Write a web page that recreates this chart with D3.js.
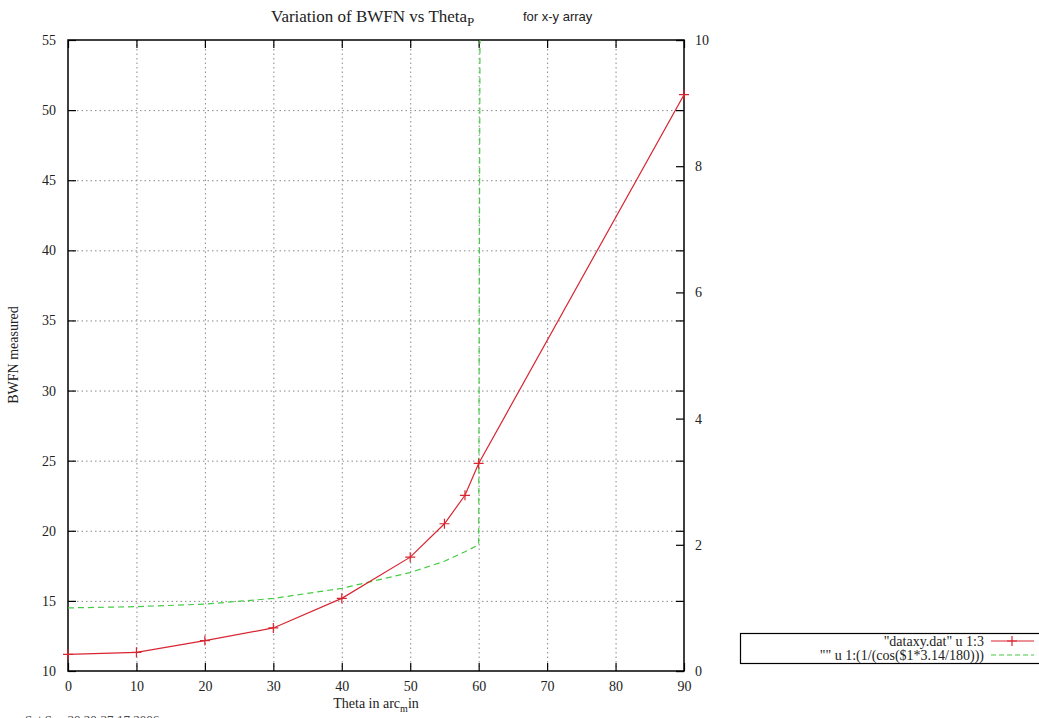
<!DOCTYPE html>
<html>
<head>
<meta charset="utf-8">
<script src="https://cdn.jsdelivr.net/npm/d3@7"></script>
<style>
  html, body { margin: 0; padding: 0; background: #fff; }
  svg { display: block; }
</style>
</head>
<body>
<svg id="chart" width="1039" height="718"></svg>
<script>
// Theta values (arc-minutes) shared by both series
const theta = [0, 10, 20, 30, 40, 50, 55, 58, 60, 90];
// Measured BWFN (left axis)
const bwfn = [11.18, 11.33, 12.17, 13.07, 15.18, 18.12, 20.5, 22.53, 24.8, 51.1];
// 1/cos(theta) reference curve (right axis)
const secant = [1.00, 1.02, 1.06, 1.15, 1.31, 1.56, 1.74, 1.89, 2.00, 1256];

const xTicks = [0, 10, 20, 30, 40, 50, 60, 70, 80, 90];
const yTicks = [10, 15, 20, 25, 30, 35, 40, 45, 50, 55];
const y2Ticks = [0, 2, 4, 6, 8, 10];

const legendLabels = ['"dataxy.dat" u 1:3', '"" u 1:(1/(cos($1*3.14/180)))'];

const SERIF = '"Liberation Serif", "DejaVu Serif", serif';
const SANS = '"Liberation Sans", Arial, sans-serif';

const svg = d3.select("#chart");
const L = 68, R = 684, T = 40, B = 671;

const x = d3.scaleLinear().domain([0, 90]).range([L, R]);
const y = d3.scaleLinear().domain([10, 55]).range([B, T]);
const y2 = d3.scaleLinear().domain([0, 10]).range([B, T]);

const red = "#d92530", green = "#44cc44";

svg.append("defs").append("clipPath").attr("id", "plotclip")
  .append("rect").attr("x", L).attr("y", T).attr("width", R - L).attr("height", B - T);

// dotted grid
const grid = svg.append("g").attr("stroke", "#8a8a8a").attr("stroke-width", 1)
  .attr("stroke-dasharray", "1.5,3");
grid.selectAll("line.gx").data(xTicks.slice(1, -1)).join("line")
  .attr("x1", d => x(d) + 0.5).attr("x2", d => x(d) + 0.5).attr("y1", T).attr("y2", B);
grid.selectAll("line.gy").data(yTicks.slice(1, -1)).join("line")
  .attr("y1", d => y(d) + 0.5).attr("y2", d => y(d) + 0.5).attr("x1", L).attr("x2", R);

// axes (ticks drawn inward, mirrored on opposite sides)
const tk = 8;
const axisStyle = g => {
  g.attr("font-family", SERIF).attr("font-size", 14);
  g.select(".domain").remove();
  g.selectAll(".tick line").attr("stroke", "#000").attr("stroke-width", 1.2);
  g.selectAll(".tick text").attr("fill", "#222");
};

svg.append("g").attr("transform", `translate(0,${B})`)
  .call(d3.axisBottom(x).tickValues(xTicks).tickSize(-tk).tickPadding(10).tickFormat(d3.format("d")))
  .call(axisStyle);
svg.append("g").attr("transform", `translate(0,${T})`)
  .call(d3.axisTop(x).tickValues(xTicks).tickSize(-tk).tickFormat(""))
  .call(axisStyle);
svg.append("g").attr("transform", `translate(${L},0)`)
  .call(d3.axisLeft(y).tickValues(yTicks).tickSize(-tk).tickPadding(12).tickFormat(d3.format("d")))
  .call(axisStyle);
svg.append("g").attr("transform", `translate(${R},0)`)
  .call(d3.axisRight(y).tickValues(yTicks).tickSize(-tk).tickFormat(""))
  .call(axisStyle);
svg.append("g").attr("transform", `translate(${R},0)`)
  .call(d3.axisRight(y2).tickValues(y2Ticks).tickSize(-tk).tickPadding(11).tickFormat(d3.format("d")))
  .call(axisStyle);

// border
svg.append("rect").attr("x", L).attr("y", T).attr("width", R - L).attr("height", B - T)
  .attr("fill", "none").attr("stroke", "#000").attr("stroke-width", 1.5);

const plot = svg.append("g").attr("clip-path", "url(#plotclip)");

// reference curve on right axis
plot.append("path")
  .datum(theta.map((t, i) => [t, secant[i]]))
  .attr("fill", "none").attr("stroke", green).attr("stroke-width", 1.2)
  .attr("stroke-dasharray", "6,4")
  .attr("d", d3.line().x(d => x(d[0])).y(d => y2(d[1])));

// measured series on left axis
plot.append("path")
  .datum(theta.map((t, i) => [t, bwfn[i]]))
  .attr("fill", "none").attr("stroke", red).attr("stroke-width", 1.2)
  .attr("d", d3.line().x(d => x(d[0])).y(d => y(d[1])));

const plus = s => `M${-s},0H${s}M0,${-s}V${s}`;
svg.append("g").selectAll("path").data(theta.map((t, i) => [t, bwfn[i]])).join("path")
  .attr("transform", d => `translate(${x(d[0])},${y(d[1])})`)
  .attr("d", plus(5)).attr("stroke", red).attr("stroke-width", 1.2).attr("fill", "none");

// titles
const title = svg.append("text").attr("font-family", SERIF).attr("font-size", 17)
  .attr("fill", "#222").attr("x", 271).attr("y", 22);
title.append("tspan").text("Variation of BWFN vs Theta");
title.append("tspan").attr("font-size", 13).attr("dy", 4).text("P");
svg.append("text").attr("font-family", SANS).attr("font-size", 13).attr("fill", "#222")
  .attr("x", 523).attr("y", 21).text("for x-y array");

const xl = svg.append("text").attr("font-family", SERIF).attr("font-size", 14).attr("fill", "#222")
  .attr("x", 376).attr("y", 708).attr("text-anchor", "middle");
xl.append("tspan").text("Theta in arc");
xl.append("tspan").attr("font-size", 10).attr("dy", 4).text("m");
xl.append("tspan").attr("dy", -4).text("in");

svg.append("text").attr("font-family", SERIF).attr("font-size", 14).attr("fill", "#222")
  .attr("transform", "translate(18,355) rotate(-90)").attr("text-anchor", "middle")
  .text("BWFN measured");

// timestamp at the lower page edge
svg.append("text").attr("font-family", SERIF).attr("font-size", 13).attr("fill", "#444")
  .attr("x", 25).attr("y", 724).text("Sat Sep 30 20:37:17 2006");

// legend
const lg = svg.append("g");
lg.append("rect").attr("x", 740.5).attr("y", 633.5).attr("width", 320).attr("height", 30)
  .attr("fill", "none").attr("stroke", "#000").attr("stroke-width", 1.2);
const ly = [641, 655];
lg.selectAll("text").data(legendLabels).join("text").attr("font-family", SERIF)
  .attr("font-size", 14).attr("fill", "#222").attr("text-anchor", "end")
  .attr("x", 984).attr("y", (d, i) => ly[i] + 4.5).text(d => d);
lg.append("line").attr("x1", 991).attr("x2", 1034).attr("y1", ly[0]).attr("y2", ly[0])
  .attr("stroke", red).attr("stroke-width", 1.2);
lg.append("path").attr("transform", `translate(1012,${ly[0]})`).attr("d", plus(5))
  .attr("stroke", red).attr("stroke-width", 1.2);
lg.append("line").attr("x1", 991).attr("x2", 1034).attr("y1", ly[1]).attr("y2", ly[1])
  .attr("stroke", green).attr("stroke-width", 1.2).attr("stroke-dasharray", "5,3");
</script>
</body>
</html>
